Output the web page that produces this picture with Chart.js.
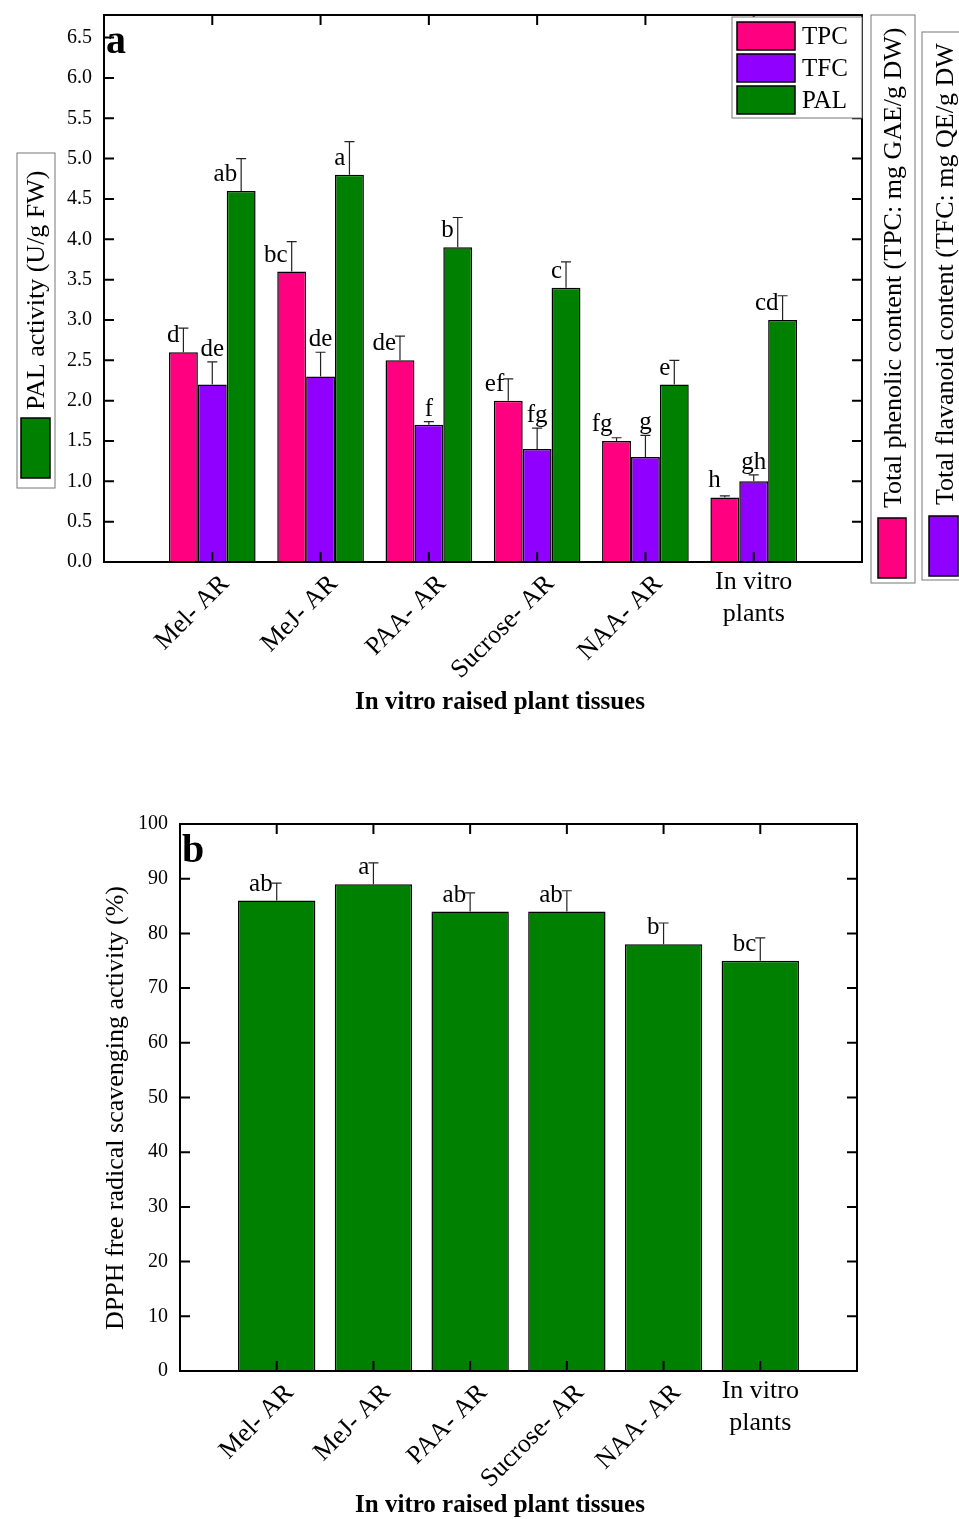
<!DOCTYPE html>
<html>
<head>
<meta charset="utf-8">
<script src="https://cdn.jsdelivr.net/npm/chart.js@4.4.0/dist/chart.umd.min.js"></script>
<style>
body { margin: 0; background: #fff; width: 959px; height: 1519px; overflow: hidden; position: relative; }
canvas { position: absolute; left: 0; }
#chartA { top: 0; }
#chartB { top: 760px; }
</style>
</head>
<body>
<canvas id="chartA" width="959" height="740"></canvas>
<canvas id="chartB" width="959" height="759"></canvas>
<script>
// --- Data ---
const categories = ['Mel- AR', 'MeJ- AR', 'PAA- AR', 'Sucrose- AR', 'NAA- AR', ['In vitro', 'plants']];

// panel a
const tpc = [2.6, 3.6, 2.5, 2.0, 1.5, 0.8];
const tpcErr = [0.3, 0.37, 0.3, 0.27, 0.04, 0.02];
const tpcLetters = ['d', 'bc', 'de', 'ef', 'fg', 'h'];

const tfc = [2.2, 2.3, 1.7, 1.4, 1.3, 1.0];
const tfcErr = [0.28, 0.3, 0.04, 0.26, 0.27, 0.08];
const tfcLetters = ['de', 'de', 'f', 'fg', 'g', 'gh'];

const pal = [4.6, 4.8, 3.9, 3.4, 2.2, 3.0];
const palErr = [0.4, 0.41, 0.37, 0.32, 0.3, 0.3];
const palLetters = ['ab', 'a', 'b', 'c', 'e', 'cd'];

// panel b
const dpph = [86, 89, 84, 84, 78, 75];
const dpphErr = [3.2, 3.9, 3.4, 3.8, 3.9, 4.2];
const dpphLetters = ['ab', 'a', 'ab', 'ab', 'b', 'bc'];

const FONT = '"Liberation Serif", "Times New Roman", serif';
const PINK = '#FF0080', PURPLE = '#9000FF', GREEN = '#008000';

function toPoints(arr) {
    return arr.map((v, i) => ({ x: i, y: v }));
}

// draws frame, inward ticks, error bars, letters, category labels and titles
function makeDecor(cfg) {
    return {
        id: 'decor',
        afterDatasetsDraw(chart) {
            const ctx = chart.ctx;
            const ys = chart.scales.y;
            ctx.save();
            chart.data.datasets.forEach((ds, di) => {
                const meta = chart.getDatasetMeta(di);
                meta.data.forEach((bar, i) => {
                    const yTop = ys.getPixelForValue(ds.data[i].y + ds.errors[i]);
                    ctx.strokeStyle = '#222';
                    ctx.lineWidth = 1.2;
                    ctx.beginPath();
                    ctx.moveTo(bar.x, bar.y);
                    ctx.lineTo(bar.x, yTop);
                    ctx.moveTo(bar.x - 5, yTop);
                    ctx.lineTo(bar.x + 5, yTop);
                    ctx.stroke();

                    ctx.fillStyle = '#000';
                    ctx.font = '25px ' + FONT;
                    ctx.textBaseline = 'alphabetic';
                    if (ds.letterCentered) {
                        ctx.textAlign = 'center';
                        ctx.fillText(ds.letters[i], bar.x, yTop - 6);
                    } else {
                        ctx.textAlign = 'right';
                        ctx.fillText(ds.letters[i], bar.x - 4, bar.y - 10);
                    }
                });
            });
            ctx.restore();
        },
        afterDraw(chart) {
            const ctx = chart.ctx;
            const a = chart.chartArea;
            const xs = chart.scales.x, ys = chart.scales.y;
            ctx.save();

            // frame
            ctx.strokeStyle = '#000';
            ctx.lineWidth = 2;
            ctx.strokeRect(a.left, a.top, a.right - a.left, a.bottom - a.top);

            // inward ticks
            ctx.beginPath();
            ys.ticks.forEach(t => {
                const py = ys.getPixelForValue(t.value);
                ctx.moveTo(a.left, py); ctx.lineTo(a.left + 10, py);
                ctx.moveTo(a.right, py); ctx.lineTo(a.right - 10, py);
            });
            categories.forEach((c, i) => {
                const px = xs.getPixelForValue(i);
                ctx.moveTo(px, a.top); ctx.lineTo(px, a.top + 10);
                ctx.moveTo(px, a.bottom); ctx.lineTo(px, a.bottom - 10);
            });
            ctx.stroke();

            // category labels
            ctx.fillStyle = '#000';
            ctx.font = '26px ' + FONT;
            categories.forEach((c, i) => {
                const px = xs.getPixelForValue(i);
                if (Array.isArray(c)) {
                    ctx.textAlign = 'center';
                    ctx.textBaseline = 'middle';
                    c.forEach((line, k) => ctx.fillText(line, px, a.bottom + 20 + k * 32));
                } else {
                    ctx.save();
                    ctx.translate(px + 13, a.bottom + 18);
                    ctx.rotate(-Math.PI / 4);
                    ctx.textAlign = 'right';
                    ctx.textBaseline = 'middle';
                    ctx.fillText(c, 0, 0);
                    ctx.restore();
                }
            });

            // x title
            ctx.font = 'bold 25px ' + FONT;
            ctx.textAlign = 'center';
            ctx.textBaseline = 'middle';
            ctx.fillText('In vitro raised plant tissues', 500, a.bottom + cfg.xTitleOffset);

            // panel letter
            ctx.font = 'bold 40px ' + FONT;
            ctx.textAlign = 'left';
            ctx.textBaseline = 'alphabetic';
            ctx.fillText(cfg.panel, a.left + 2, a.top + 38);

            cfg.extra(ctx, chart);
            ctx.restore();
        }
    };
}

function rotatedText(ctx, text, x, y, align) {
    ctx.save();
    ctx.translate(x, y);
    ctx.rotate(-Math.PI / 2);
    ctx.textAlign = align;
    ctx.textBaseline = 'middle';
    ctx.fillText(text, 0, 0);
    ctx.restore();
}

function titleBox(ctx, box, swatch, color, text, tx, ty) {
    ctx.strokeStyle = '#777';
    ctx.lineWidth = 1;
    ctx.strokeRect(box[0], box[1], box[2], box[3]);
    ctx.fillStyle = color;
    ctx.fillRect(swatch[0], swatch[1], swatch[2], swatch[3]);
    ctx.strokeStyle = '#000';
    ctx.lineWidth = 1.5;
    ctx.strokeRect(swatch[0], swatch[1], swatch[2], swatch[3]);
    ctx.fillStyle = '#000';
    ctx.font = '26px ' + FONT;
    rotatedText(ctx, text, tx, ty, 'left');
}

function fixAxis(width) {
    return function (s) {
        s.width = width;
        s.paddingTop = 0;
        s.paddingBottom = 0;
    };
}

// --- Panel a ---
new Chart(document.getElementById('chartA'), {
    type: 'bar',
    data: {
        datasets: [
            { label: 'TPC', data: toPoints(tpc), errors: tpcErr, letters: tpcLetters, backgroundColor: PINK },
            { label: 'TFC', data: toPoints(tfc), errors: tfcErr, letters: tfcLetters, letterCentered: true, backgroundColor: PURPLE },
            { label: 'PAL', data: toPoints(pal), errors: palErr, letters: palLetters, backgroundColor: GREEN }
        ].map(d => Object.assign(d, { borderColor: '#000', borderWidth: 1.5, categoryPercentage: 0.8, barPercentage: 1.0 }))
    },
    options: {
        responsive: false,
        animation: false,
        layout: { padding: { left: 0, right: 97, top: 15, bottom: 178 } },
        plugins: { legend: { display: false }, tooltip: { enabled: false } },
        scales: {
            x: { type: 'linear', display: false, min: -1, max: 6, offset: false },
            y: {
                min: 0, max: 6.78,
                grid: { display: false },
                border: { display: false },
                ticks: {
                    stepSize: 0.5, includeBounds: false, padding: 4, color: '#000',
                    font: { family: FONT, size: 20 },
                    callback: v => v.toFixed(1)
                },
                afterFit: fixAxis(104)
            }
        }
    },
    plugins: [makeDecor({
        panel: 'a',
        xTitleOffset: 141,
        extra(ctx, chart) {
            // legend
            ctx.fillStyle = '#fff';
            ctx.fillRect(732, 17, 130, 101);
            ctx.strokeStyle = '#777';
            ctx.lineWidth = 1;
            ctx.strokeRect(732, 17, 130, 101);
            chart.data.datasets.forEach((ds, i) => {
                const y = 22 + i * 32;
                ctx.fillStyle = ds.backgroundColor;
                ctx.fillRect(737, y, 58, 28);
                ctx.strokeStyle = '#000';
                ctx.lineWidth = 1.5;
                ctx.strokeRect(737, y, 58, 28);
                ctx.fillStyle = '#000';
                ctx.font = '25px ' + FONT;
                ctx.textAlign = 'left';
                ctx.textBaseline = 'middle';
                ctx.fillText(ds.label, 802, y + 15);
            });
            // axis title boxes
            titleBox(ctx, [17, 153, 38, 335], [21, 418, 29, 60], GREEN, 'PAL activity (U/g FW)', 37, 410);
            titleBox(ctx, [871, 15, 44, 568], [878, 518, 28, 60], PINK, 'Total phenolic content (TPC: mg GAE/g DW)', 894, 508);
            titleBox(ctx, [922, 32, 60, 548], [929, 516, 29, 60], PURPLE, 'Total flavanoid content (TFC: mg QE/g DW', 946, 505);
        }
    })]
});

// --- Panel b ---
new Chart(document.getElementById('chartB'), {
    type: 'bar',
    data: {
        datasets: [
            { label: 'DPPH', data: toPoints(dpph), errors: dpphErr, letters: dpphLetters, backgroundColor: GREEN,
              borderColor: '#000', borderWidth: 1.5, categoryPercentage: 0.8, barPercentage: 1.0 }
        ]
    },
    options: {
        responsive: false,
        animation: false,
        layout: { padding: { left: 0, right: 102, top: 64, bottom: 148 } },
        plugins: { legend: { display: false }, tooltip: { enabled: false } },
        scales: {
            x: { type: 'linear', display: false, min: -1, max: 6, offset: false },
            y: {
                min: 0, max: 100,
                grid: { display: false },
                border: { display: false },
                ticks: {
                    stepSize: 10, padding: 4, color: '#000',
                    font: { family: FONT, size: 20 }
                },
                afterFit: fixAxis(180)
            }
        }
    },
    plugins: [makeDecor({
        panel: 'b',
        xTitleOffset: 135,
        extra(ctx) {
            ctx.fillStyle = '#000';
            ctx.font = '26px ' + FONT;
            rotatedText(ctx, 'DPPH free radical scavenging activity (%)', 116, 348, 'center');
        }
    })]
});
</script>
</body>
</html>
